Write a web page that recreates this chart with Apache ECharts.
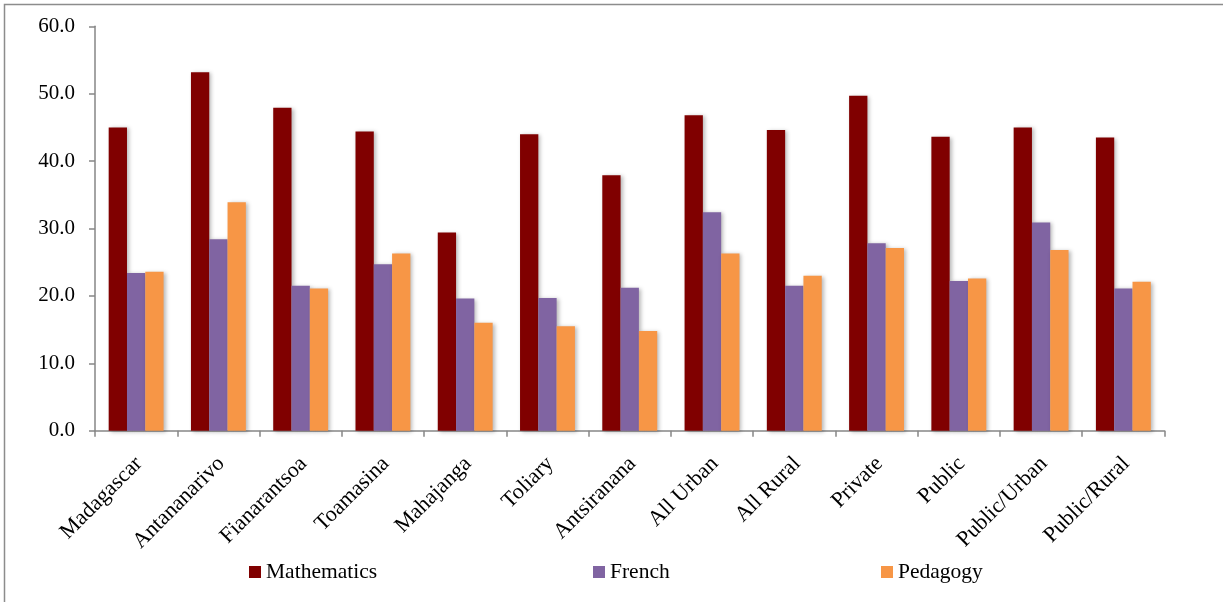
<!DOCTYPE html>
<html>
<head>
<meta charset="utf-8">
<script src="https://cdn.jsdelivr.net/npm/echarts@6/dist/echarts.min.js"></script>
<style>
  html, body { margin: 0; padding: 0; background: #fff; }
  #chart { width: 1223px; height: 602px; }
</style>
</head>
<body>
<div id="chart"></div>
<script>
// Mean scores by region and school type
const categories = ['Madagascar', 'Antananarivo', 'Fianarantsoa', 'Toamasina', 'Mahajanga', 'Toliary',
  'Antsiranana', 'All Urban', 'All Rural', 'Private', 'Public', 'Public/Urban', 'Public/Rural'];
const mathematics = [45.0, 53.2, 47.9, 44.4, 29.4, 44.0, 37.9, 46.8, 44.6, 49.7, 43.6, 45.0, 43.5];
const french      = [23.4, 28.4, 21.5, 24.7, 19.6, 19.7, 21.2, 32.4, 21.5, 27.8, 22.2, 30.9, 21.1];
const pedagogy    = [23.6, 33.9, 21.1, 26.3, 16.0, 15.5, 14.8, 26.3, 23.0, 27.1, 22.6, 26.8, 22.1];
const yTicks = [0, 10, 20, 30, 40, 50, 60];

const FONT = '"Liberation Serif", "Times New Roman", serif';
const AXIS_GREY = '#868686';

const barShadow = {
  shadowColor: 'rgba(0,0,0,0.28)',
  shadowBlur: 4,
  shadowOffsetX: 2,
  shadowOffsetY: 1
};

function legendAt(name, left) {
  return {
    data: [name],
    left: left,
    top: 556,
    icon: 'rect',
    itemWidth: 12,
    itemHeight: 12,
    itemGap: 0,
    selectedMode: false,
    textStyle: { fontFamily: FONT, fontSize: 21.5, color: '#000' }
  };
}

const chart = echarts.init(document.getElementById('chart'), null, { renderer: 'canvas' });
chart.setOption({
  animation: false,
  backgroundColor: '#fff',
  graphic: [{
    type: 'rect',
    shape: { x: 4.5, y: 4.5, width: 1240, height: 620 },
    style: { fill: 'none', stroke: '#8c8c8c', lineWidth: 1.5 },
    silent: true
  }],
  legend: [
    legendAt('Mathematics', 244),
    legendAt('French', 588),
    legendAt('Pedagogy', 876)
  ],
  grid: { left: 95, right: 58.5, top: 26.3, bottom: 171.3, containLabel: false },
  xAxis: {
    type: 'category',
    data: categories,
    boundaryGap: true,
    axisLine: { lineStyle: { color: AXIS_GREY, width: 1.5 } },
    axisTick: { show: true, alignWithLabel: false, length: 6, lineStyle: { color: AXIS_GREY, width: 1.5 } },
    axisLabel: {
      interval: 0,
      rotate: 45,
      align: 'right',
      verticalAlign: 'top',
      margin: 17,
      padding: [0, 7, 0, 0],
      fontFamily: FONT,
      fontSize: 22,
      color: '#000'
    }
  },
  yAxis: {
    type: 'value',
    min: yTicks[0],
    max: yTicks[yTicks.length - 1],
    interval: yTicks[1] - yTicks[0],
    splitLine: { show: false },
    axisLine: { show: true, lineStyle: { color: AXIS_GREY, width: 1.5 } },
    axisTick: { show: true, length: 6, lineStyle: { color: AXIS_GREY, width: 1.5 } },
    axisLabel: {
      margin: 20,
      fontFamily: FONT,
      fontSize: 21,
      color: '#000',
      formatter: v => v.toFixed(1)
    }
  },
  series: [
    {
      name: 'Mathematics', type: 'bar', data: mathematics,
      barWidth: 18.3, barGap: '0%',
      itemStyle: Object.assign({ color: '#800000' }, barShadow)
    },
    {
      name: 'French', type: 'bar', data: french,
      barWidth: 18.3, barGap: '0%',
      itemStyle: Object.assign({ color: '#8064A2' }, barShadow)
    },
    {
      name: 'Pedagogy', type: 'bar', data: pedagogy,
      barWidth: 18.3, barGap: '0%',
      itemStyle: Object.assign({ color: '#F79646' }, barShadow)
    }
  ]
});
</script>
</body>
</html>
